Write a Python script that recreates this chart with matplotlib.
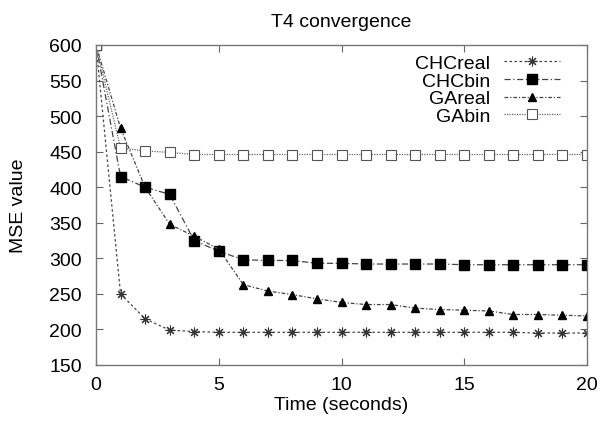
import matplotlib
matplotlib.use("Agg")
import matplotlib.pyplot as plt

t = list(range(0, 21))
chc_real = [600, 250, 215, 199, 197, 196, 196, 196, 196, 196, 196, 196, 196, 196, 196, 196, 196, 196, 195, 195, 195]
chc_bin = [600, 415, 400, 390, 325, 310, 298, 297, 297, 293, 293, 292, 292, 292, 292, 291, 291, 291, 291, 291, 291]
ga_real = [600, 483, 400, 348, 331, 313, 263, 254, 249, 243, 238, 235, 235, 230, 228, 227, 226, 221, 221, 220, 219]
ga_bin = [600, 455, 451, 449, 446, 446, 446, 446, 446, 446, 446, 446, 446, 446, 446, 446, 446, 446, 446, 446, 446]

plt.rcParams['font.family'] = ['Liberation Sans', 'DejaVu Sans']
fig = plt.figure(figsize=(6.01, 4.27), dpi=100)
ax = fig.add_axes([96 / 601, 1 - 366 / 427, (587 - 96) / 601, (366 - 46) / 427])

lc = '#444444'
ax.plot(t, chc_real, linestyle=(0, (2, 2)), color=lc, lw=0.9, marker=(8, 2, 0), ms=7,
        mec='#333333', mfc='none', mew=0.8, label='CHCreal')
ax.plot(t, chc_bin, linestyle=(0, (5, 2, 1, 2)), color=lc, lw=0.9, marker='s', ms=7,
        mec='black', mfc='black', label='CHCbin')
ax.plot(t, ga_real, linestyle=(0, (3, 1.5, 1, 1.5)), color=lc, lw=0.9, marker='^', ms=6,
        mec='black', mfc='black', label='GAreal')
ax.plot(t, ga_bin, linestyle=(0, (1, 1)), color='#666666', lw=0.9, marker='s', ms=6.5,
        mec='#555555', mfc='white', mew=0.8, label='GAbin')

ax.set_xlim(0, 20)
ax.set_ylim(150, 600)
ax.set_xticks([0, 5, 10, 15, 20])
ax.set_yticks(list(range(150, 601, 50)))
ax.tick_params(direction='in', top=True, right=True, length=5, width=0.8,
               color='#666666', labelsize=14)
ax.tick_params(axis='y', pad=10)
ax.tick_params(axis='x', pad=8)
for s in ax.spines.values():
    s.set_color('#777777')
    s.set_linewidth(1.0)

ax.set_title('T4 convergence', fontsize=14, pad=14)
ax.set_xlabel('Time (seconds)', fontsize=14, labelpad=2)
ax.set_ylabel('MSE value', fontsize=14, labelpad=16)

leg = ax.legend(loc='upper right', bbox_to_anchor=(1 - 13 / 491, 1 + 4 / 320),
                frameon=False, markerfirst=False, fontsize=14,
                handlelength=2.9, labelspacing=0.0, borderaxespad=0.4, handletextpad=0.7,
                borderpad=0.3)
for txt in leg.get_texts():
    txt.set_ha('right')

fig.savefig('out.png', dpi=100)
